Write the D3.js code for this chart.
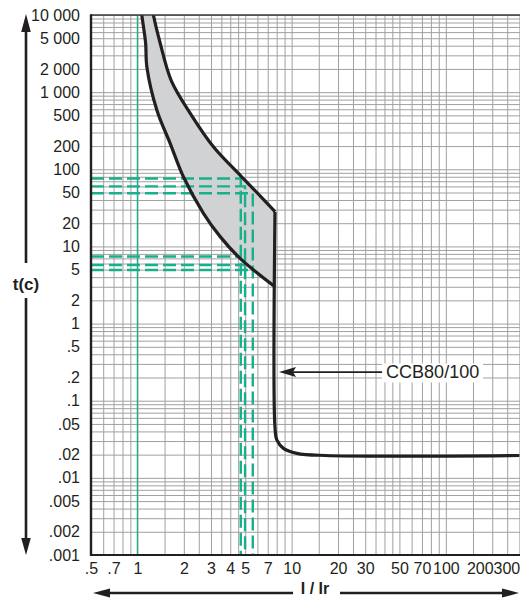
<!DOCTYPE html>
<html>
<head>
<meta charset="utf-8">
<script src="https://cdn.jsdelivr.net/npm/d3@7"></script>
<style>
  html, body { margin: 0; padding: 0; background: #fff; }
  svg { display: block; }
  text { font-family: "Liberation Sans", Arial, Helvetica, sans-serif; fill: #231f20; }
</style>
</head>
<body>
<svg id="chart" width="520" height="598"></svg>
<script>
// ---------------- data ----------------
const xTickValues = [0.5, 0.7, 1, 2, 3, 4, 5, 7, 10, 20, 30, 50, 70, 100, 200, 300];
const xTickLabels = [".5", ".7", "1", "2", "3", "4", "5", "7", "10", "20", "30", "50", "70", "100", "200", "300"];
const yTickValues = [10000, 5000, 2000, 1000, 500, 200, 100, 50, 20, 10, 5, 2, 1, 0.5, 0.2, 0.1, 0.05, 0.02, 0.01, 0.005, 0.002, 0.001];
const yTickLabels = ["10 000", "5 000", "2 000", "1 000", "500", "200", "100", "50", "20", "10", "5", "2", "1", ".5", ".2", ".1", ".05", ".02", ".01", ".005", ".002", ".001"];
const xGridMultipliers = [1, 1.5, 2, 2.5, 3, 3.5, 4, 4.5, 5, 6, 7, 8, 9];
const yGridMultipliers = [1, 2, 3, 4, 5, 6, 7, 8, 9];
const decades = [0.001, 0.01, 0.1, 1, 10, 100, 1000, 10000];

// lower (minimum) tripping curve: I/Ir -> t
const minCurveI = [1.05, 1.068, 1.13, 1.151, 1.336, 1.63, 1.987, 2.68, 3.44, 4.63, 7.8];
const minCurveT = [14000, 10000, 4335, 2138, 587, 217, 80, 26.9, 13.4, 7.0, 3.0];
// upper (maximum) tripping curve
const maxCurveI = [1.236, 1.27, 1.404, 1.66, 2.2, 3.11, 4.63, 5.95, 7.8];
const maxCurveT = [14000, 10000, 4335, 1400, 532, 196, 84, 50, 28.2];
// magnetic trip: vertical drop and instantaneous plateau
const tripI = [7.8, 7.8, 8.02, 8.85, 10.8, 16.5, 300];
const tripT = [28.2, 0.045, 0.031, 0.0241, 0.0208, 0.0195, 0.0195];

// green dashed reading lines
const markI = [4.68, 4.99, 5.60];
const markTHigh = [76, 60, 49];
const markTLow = [7.4, 5.75, 4.95];
const refI = 1;

const curveLabel = "CCB80/100";
const curveLabelT = 0.235;
const curveLabelI = 41;
const yAxisTitle = "t(c)";
const xAxisTitle = "I / Ir";

// ---------------- layout ----------------
const svg = d3.select("#chart");
const L = 91, R = 519.4, T = 15, B = 555;
const x = d3.scaleLog().domain([0.5, 300]).range([L, R]);
const y = d3.scaleLog().domain([0.001, 10000]).range([B, T]);
const ink = "#231f20";
const green = "#17b08a";
const gridColor = "#a0a0a0";

svg.append("defs").append("clipPath").attr("id", "plotclip")
  .append("rect").attr("x", L).attr("y", T).attr("width", 520 - L).attr("height", B - T);

// grid values
const xGrid = [];
decades.forEach(d => xGridMultipliers.forEach(m => {
  const v = +(m * d).toPrecision(6);
  if (v >= 0.5 && v <= 300) xGrid.push(v);
}));
const yGrid = [];
decades.forEach(d => yGridMultipliers.forEach(m => {
  const v = +(m * d).toPrecision(6);
  if (v >= 0.001 && v <= 10000) yGrid.push(v);
}));

// vertical grid via axis
const gx = svg.append("g").attr("transform", `translate(0,${B})`)
  .call(d3.axisBottom(x).tickValues(xGrid).tickSize(-(B - T)).tickFormat(""));
gx.select(".domain").remove();
gx.selectAll(".tick line").attr("stroke", gridColor).attr("stroke-width", 1);

// horizontal grid via axis
const gy = svg.append("g").attr("transform", `translate(${L},0)`)
  .call(d3.axisLeft(y).tickValues(yGrid).tickSize(-(520 - L)).tickFormat(""));
gy.select(".domain").remove();
gy.selectAll(".tick line").attr("stroke", gridColor).attr("stroke-width", 1);

// solid green reference at I/Ir = 1
svg.append("line")
  .attr("x1", x(refI)).attr("x2", x(refI)).attr("y1", T).attr("y2", B)
  .attr("stroke", green).attr("stroke-width", 1.3);

const plot = svg.append("g").attr("clip-path", "url(#plotclip)");

// band fill
const curveGen = d3.line().x(d => x(d[0])).y(d => y(d[1])).curve(d3.curveCatmullRom.alpha(0.5));
const minPts = minCurveI.map((v, i) => [v, minCurveT[i]]);
const maxPts = maxCurveI.map((v, i) => [v, maxCurveT[i]]);
const bandPath = curveGen(minPts) + "L" + curveGen(maxPts.slice().reverse()).slice(1) + "Z";
plot.append("path").attr("d", bandPath).attr("fill", "#d1d2d4").attr("stroke", "none");

// green dashed reading lines
markI.forEach((mi, k) => {
  const g = plot.append("g").attr("fill", "none").attr("stroke", green)
    .attr("stroke-width", 2.4).attr("stroke-dasharray", "13,5");
  g.append("path").attr("d", `M${L},${y(markTHigh[k])}H${x(mi)}V${B}`);
  g.append("path").attr("d", `M${L},${y(markTLow[k])}H${x(mi)}`);
});

// black curves
plot.append("path").attr("d", curveGen(minPts)).attr("fill", "none").attr("stroke", ink).attr("stroke-width", 3.2);
plot.append("path").attr("d", curveGen(maxPts)).attr("fill", "none").attr("stroke", ink).attr("stroke-width", 3.2);
const tripPts = tripI.map((v, i) => [v, tripT[i]]);
plot.append("path").attr("d", curveGen(tripPts)).attr("fill", "none").attr("stroke", ink)
  .attr("stroke-width", 3.2).attr("stroke-linejoin", "round");

// frame
svg.append("line").attr("x1", L).attr("x2", 520).attr("y1", T).attr("y2", T).attr("stroke", "#3a3a3a").attr("stroke-width", 1.6);
svg.append("line").attr("x1", L).attr("x2", L).attr("y1", T - 0.8).attr("y2", B + 1).attr("stroke", ink).attr("stroke-width", 2.4);
svg.append("line").attr("x1", L).attr("x2", 520).attr("y1", B).attr("y2", B).attr("stroke", ink).attr("stroke-width", 2.2);

// tick labels (Y)
const ay = svg.append("g").attr("transform", `translate(${L},0)`)
  .call(d3.axisLeft(y).tickValues(yTickValues).tickSize(0).tickPadding(11)
    .tickFormat((d, i) => yTickLabels[i]));
ay.select(".domain").remove();
ay.selectAll("text").attr("font-size", 16).attr("fill", ink)
  .attr("font-family", '"Liberation Sans", Arial, sans-serif');

// tick labels (X)
const ax = svg.append("g").attr("transform", `translate(0,${B})`)
  .call(d3.axisBottom(x).tickValues(xTickValues).tickSize(0).tickPadding(8)
    .tickFormat((d, i) => xTickLabels[i]));
ax.select(".domain").remove();
ax.selectAll("text").attr("font-size", 16).attr("fill", ink)
  .attr("font-family", '"Liberation Sans", Arial, sans-serif')
  .attr("dx", d => (d >= 300 ? -13 : d >= 200 ? -12.5 : 0));

// curve label with arrow
const ly = y(curveLabelT);
const lx = x(curveLabelI);
const lg = svg.append("g");
const lbl = lg.append("text").attr("x", lx).attr("y", ly).attr("dy", "0.35em")
  .attr("font-size", 18).attr("fill", ink).text(curveLabel);
const bb = lbl.node().getBBox();
lg.insert("rect", "text")
  .attr("x", bb.x - 4).attr("y", bb.y + 1).attr("width", bb.width + 8).attr("height", bb.height - 1)
  .attr("fill", "#fff");
const tipX = x(tripI[0]) + 4;
svg.append("line").attr("x1", bb.x - 4).attr("x2", tipX + 14).attr("y1", ly).attr("y2", ly)
  .attr("stroke", ink).attr("stroke-width", 1.6);
svg.append("path").attr("d", `M${tipX},${ly}L${tipX + 17},${ly - 5}L${tipX + 14},${ly}L${tipX + 17},${ly + 5}Z`)
  .attr("fill", ink);

// Y axis arrow with title
const axX = 26;
const yTitleY = 284;
svg.append("line").attr("x1", axX).attr("x2", axX).attr("y1", T + 12).attr("y2", yTitleY - 21)
  .attr("stroke", ink).attr("stroke-width", 2.6);
svg.append("line").attr("x1", axX).attr("x2", axX).attr("y1", yTitleY + 14).attr("y2", B - 12)
  .attr("stroke", ink).attr("stroke-width", 2.6);
svg.append("path").attr("d", `M${axX},${T - 1}L${axX - 4.8},${T + 17}L${axX + 4.8},${T + 17}Z`).attr("fill", ink);
svg.append("path").attr("d", `M${axX},${B}L${axX - 4.8},${B - 17}L${axX + 4.8},${B - 17}Z`).attr("fill", ink);
svg.append("text").attr("x", axX).attr("y", yTitleY).attr("dy", "0.35em").attr("text-anchor", "middle")
  .attr("font-size", 17).attr("font-weight", "bold").text(yAxisTitle);

// X axis arrow with title
const arY = 593;
const xTitleX = 315;
svg.append("line").attr("x1", L + 12).attr("x2", xTitleX - 22).attr("y1", arY).attr("y2", arY)
  .attr("stroke", ink).attr("stroke-width", 2.4);
svg.append("line").attr("x1", xTitleX + 25).attr("x2", 506).attr("y1", arY).attr("y2", arY)
  .attr("stroke", ink).attr("stroke-width", 2.4);
svg.append("path").attr("d", `M${L + 2},${arY}L${L + 19},${arY - 4.5}L${L + 19},${arY + 4.5}Z`).attr("fill", ink);
svg.append("path").attr("d", `M519,${arY}L502,${arY - 4.5}L502,${arY + 4.5}Z`).attr("fill", ink);
svg.append("text").attr("x", xTitleX).attr("y", 594.3).attr("text-anchor", "middle")
  .attr("font-size", 16).attr("font-weight", "bold").text(xAxisTitle);
</script>
</body>
</html>
